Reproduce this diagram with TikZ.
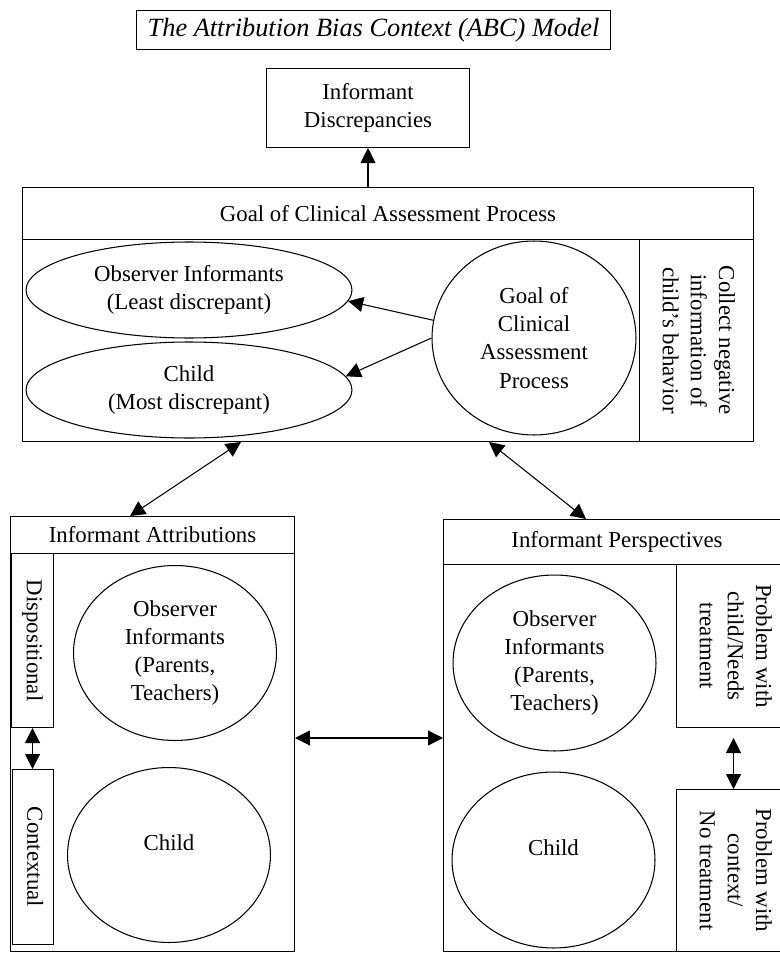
\documentclass[tikz,border=0pt]{standalone}
\usepackage{fontspec}
\setmainfont{Liberation Serif}
\usetikzlibrary{calc,shapes.geometric,arrows.meta}

\newcommand\sidetext[1]{\rotatebox{-90}{\begin{tabular}{@{}c@{}}#1\end{tabular}}}

\begin{document}
\begin{tikzpicture}[x=0.02cm,y=-0.02cm,line width=0.6pt,font=\fontsize{13}{16}\selectfont,
  box/.style={draw,inner sep=0pt,anchor=north west,align=center},
  strip/.style={draw,inner sep=0pt,anchor=north west},
  oval/.style={draw,ellipse,inner sep=0pt,align=center},
  link/.style={-{Triangle[length=0.3cm,width=0.3cm]}},
  both/.style={{Triangle[length=0.3cm,width=0.3cm]}-{Triangle[length=0.3cm,width=0.3cm]}}]
\useasboundingbox (0,0) rectangle (779,953);

% top
\node [box,minimum width=9.48cm,minimum height=0.78cm,font=\fontsize{15}{18}\selectfont\itshape] at (136,10) (title) {The Attribution Bias Context (ABC) Model};
\node [box,minimum width=4.06cm,minimum height=1.58cm] at (266,68) (disc) {Informant\\Discrepancies};

% goal of the assessment
\node [box,minimum width=14.62cm,minimum height=1.04cm] at (22,187) (ghead) {Goal of Clinical Assessment Process};
\node [box,minimum width=14.62cm,minimum height=4.04cm] at (22,239) (gbody) {};
\node [strip,minimum width=2.28cm,minimum height=4.04cm] at (639,239) (collect) {\sidetext{Collect negative\\information of\\child's behavior}};
\node [oval,minimum width=6.52cm,minimum height=1.92cm] at (189,290) (gobs) {Observer Informants\\(Least discrepant)};
\node [oval,minimum width=6.52cm,minimum height=1.92cm] at (189,390) (gkid) {Child\\(Most discrepant)};
\node [oval,minimum width=4.08cm,minimum height=3.88cm] at (534,338) (goal) {Goal of\\Clinical\\Assessment\\Process};

\draw [link] (disc.south |- ghead.north) -- (disc.south);
\draw [link] (goal.170) -- (gobs.-4);
\draw [link] (goal.180) -- (gkid.5);

% attributions
\node [box,minimum width=5.68cm,minimum height=0.74cm] at (10,516) (ahead) {Informant Attributions};
\node [box,minimum width=5.68cm,minimum height=7.96cm] at (10,553) (abody) {};
\node [strip,minimum width=0.84cm,minimum height=3.48cm] at (11,553) (disp) {\sidetext{Dispositional}};
\node [strip,minimum width=0.82cm,minimum height=3.5cm] at (12,769) (ctx) {\sidetext{Contextual}};
\node [oval,minimum width=4.06cm,minimum height=3.5cm] at (175,653) (aobs) {Observer\\Informants\\(Parents,\\Teachers)};
\node [oval,minimum width=4.06cm,minimum height=3.5cm] at (169,855) (akid) {\raisebox{0.24cm}[\height][\depth]{Child}};
\draw [both] (disp.south) -- (disp.south |- ctx.north);

% perspectives
\node [box,minimum width=6.94cm,minimum height=0.9cm] at (443,519) (phead) {Informant Perspectives};
\node [box,minimum width=6.94cm,minimum height=7.74cm] at (443,564) (pbody) {};
\node [strip,minimum width=2.28cm,minimum height=3.26cm] at (676,564) (needs) {\sidetext{Problem with\\child/Needs\\treatment}};
\node [strip,minimum width=2.28cm,minimum height=3.24cm] at (676,789) (notreat) {\sidetext{Problem with\\context/\\No treatment}};
\node [oval,minimum width=4.06cm,minimum height=3.52cm] at (554.5,663) (pobs) {Observer\\Informants\\(Parents,\\Teachers)};
\node [oval,minimum width=4.06cm,minimum height=3.52cm] at (553.5,860) (pkid) {\raisebox{0.24cm}[\height][\depth]{Child}};
\draw [both] ([yshift=-0.2cm]needs.south) -- (notreat.north);

% links between the blocks
\coordinate (mid) at (368,738);
\draw [both] ($(gbody.south west)+(219,0)$) -- ($(ahead.north west)+(120,0)$);
\draw [both] ($(gbody.south west)+(467,0)$) -- ($(phead.north west)+(143,0)$);
\draw [both] (abody.east |- mid) -- (pbody.west |- mid);

\end{tikzpicture}
\end{document}
